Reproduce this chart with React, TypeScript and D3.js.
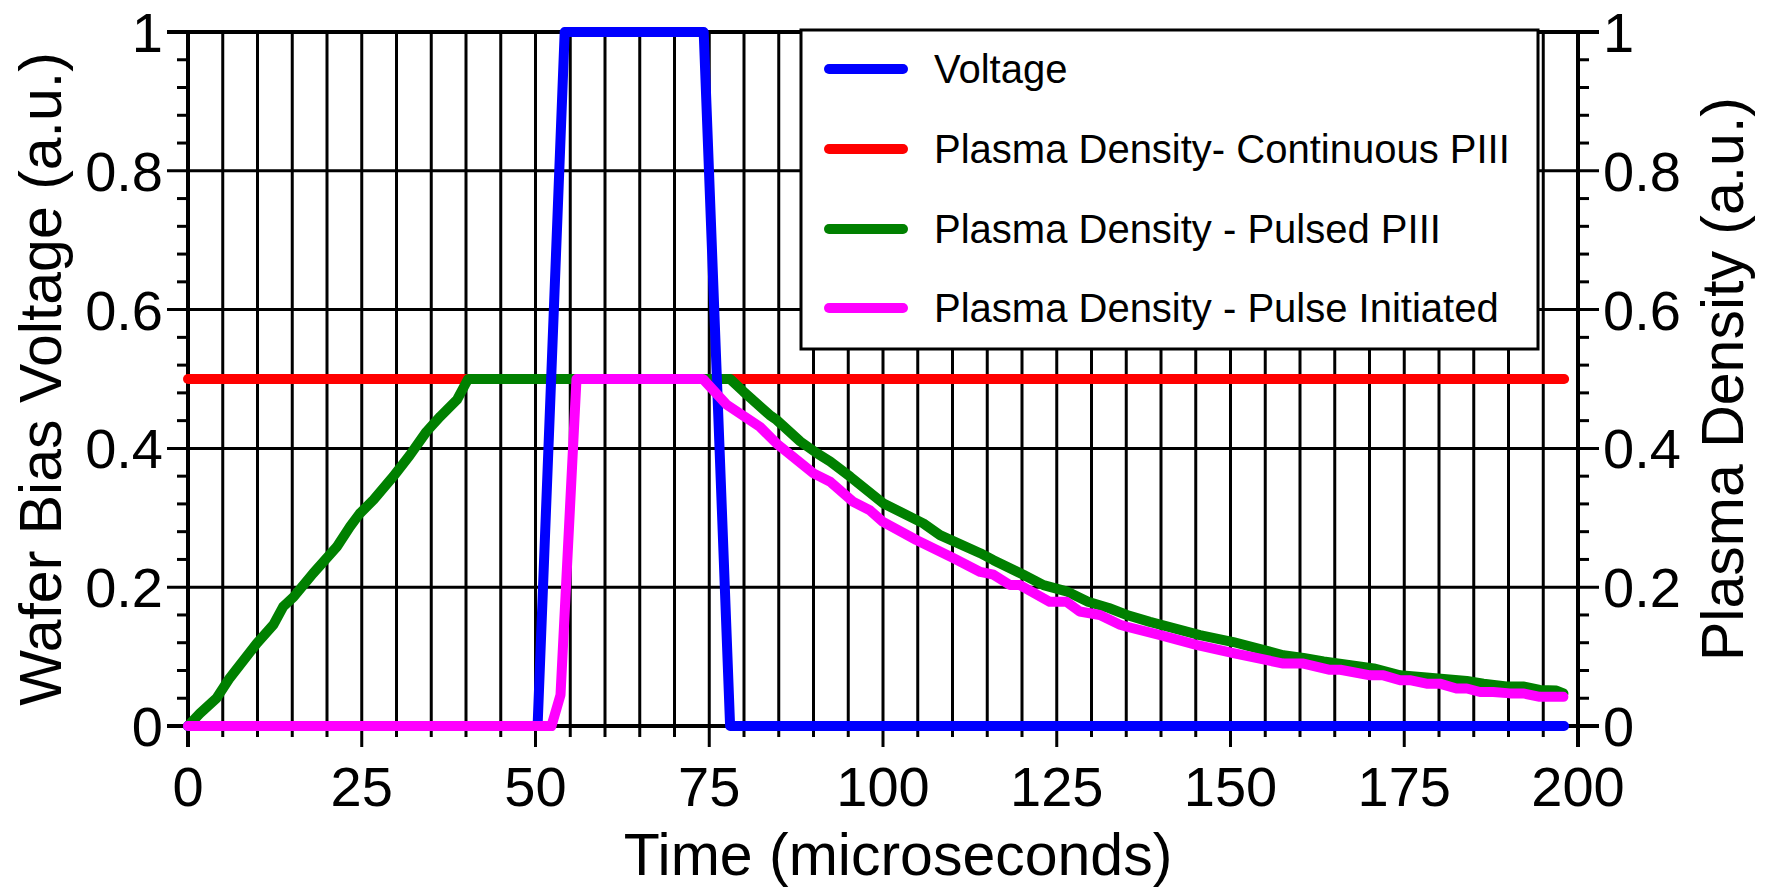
import React from "react";
import * as d3 from "d3";

// ---- Data ----
const seriesNames = [
  "Voltage",
  "Plasma Density- Continuous PIII",
  "Plasma Density - Pulsed PIII",
  "Plasma Density - Pulse Initiated",
];
const seriesColors = ["#0000ff", "#ff0000", "#008000", "#ff00ff"];

const xTicks = [0, 25, 50, 75, 100, 125, 150, 175, 200];
const yTicks = [0, 0.2, 0.4, 0.6, 0.8, 1];
const yTickLabels = ["0", "0.2", "0.4", "0.6", "0.8", "1"];

const voltage: [number, number][] = [
  [0, 0], [50.3, 0], [54.2, 1], [74.2, 1], [78.0, 0], [198, 0],
];

const continuous: [number, number][] = [
  [0, 0.5], [198, 0.5],
];

const pulsed: [number, number][] = [
  [0, 0], [1.7, 0.018], [4.1, 0.04], [6, 0.069], [9.9, 0.119], [12.3, 0.146],
  [13.7, 0.172], [15.2, 0.186], [18, 0.22], [21.4, 0.258], [23.3, 0.287],
  [24.7, 0.306], [26.7, 0.326], [29.5, 0.359], [31.9, 0.39], [34.3, 0.424],
  [36.3, 0.446], [38.7, 0.47], [40.3, 0.5], [78, 0.5], [79.9, 0.482],
  [83.7, 0.448], [84.7, 0.441], [88.1, 0.41], [90.5, 0.393], [92.4, 0.381],
  [95.3, 0.359], [100, 0.321], [105.8, 0.292], [108.2, 0.275], [114, 0.249],
  [115.9, 0.239], [120.2, 0.218], [123.1, 0.203], [126.4, 0.194],
  [129.5, 0.179], [132.5, 0.17], [135.1, 0.16], [138.4, 0.15], [145.6, 0.131],
  [150.4, 0.121], [157.6, 0.102], [160.5, 0.098], [163.4, 0.093],
  [170.6, 0.083], [174.4, 0.073], [178.2, 0.07], [184, 0.065], [186.4, 0.061],
  [189.7, 0.057], [192.1, 0.057], [194.5, 0.052], [196.9, 0.051],
  [197.9, 0.047],
];

const pulseInitiated: [number, number][] = [
  [0, 0], [52.3, 0], [53.6, 0.045], [55.9, 0.5], [74.1, 0.5], [77.5, 0.463],
  [82.3, 0.431], [84.7, 0.407], [90, 0.364], [92.4, 0.352], [95.7, 0.323],
  [98.1, 0.311], [100, 0.294], [104.8, 0.268], [110.1, 0.242], [114, 0.222],
  [115.9, 0.218], [118.3, 0.203], [119.7, 0.203], [124, 0.179], [126.4, 0.179],
  [128.3, 0.165], [131.2, 0.16], [134.1, 0.146], [135.1, 0.143],
  [139.9, 0.131], [145.1, 0.117], [150.4, 0.105], [157.6, 0.09], [160.5, 0.09],
  [164.3, 0.081], [165.8, 0.081], [170.1, 0.073], [172, 0.073], [174.4, 0.066],
  [175.8, 0.066], [178.2, 0.061], [180.1, 0.061], [182.5, 0.054], [184, 0.054],
  [185.9, 0.049], [187.8, 0.049], [190.2, 0.047], [192.1, 0.047],
  [194.5, 0.042], [197.9, 0.042],
];

// ---- Layout ----
const W = 1770;
const H = 890;
const PL = 188;
const PR = 1578;
const PT = 32;
const PB = 726;
const FONT = "'Liberation Sans', Arial, Helvetica, sans-serif";

export default function App() {
  const x = d3.scaleLinear().domain([0, 200]).range([PL, PR]);
  const y = d3.scaleLinear().domain([0, 1]).range([PB, PT]);
  const line = d3
    .line<[number, number]>()
    .x((d) => x(d[0]))
    .y((d) => y(d[1]));

  const xMinor = d3.range(0, 201, 5);
  const yMinor = d3.range(0, 1.0001, 0.04).map((v) => Math.round(v * 100) / 100);

  const majorLen = 21;
  const minorLen = 11;
  const isMajorX = (v: number) => v % 25 === 0;
  const isMajorY = (v: number) => Math.abs(v * 5 - Math.round(v * 5)) < 1e-6;

  // Draw order: continuous, pulsed, voltage, pulse initiated
  const drawOrder: [[number, number][], number][] = [
    [continuous, 1],
    [pulsed, 2],
    [voltage, 0],
    [pulseInitiated, 3],
  ];

  const legend = { x0: 801, y0: 30, x1: 1538, y1: 349 };
  const legendRowsY = [69, 149, 229, 308];

  return (
    <svg
      width={W}
      height={H}
      style={{ position: "absolute", left: 0, top: 0, background: "#fff" }}
      fontFamily={FONT}
    >
      <rect x={0} y={0} width={W} height={H} fill="#fff" />
      {/* vertical grid + bottom ticks */}
      {xMinor.map((v) => (
        <line
          key={"vx" + v}
          x1={x(v)}
          x2={x(v)}
          y1={PT}
          y2={PB + (isMajorX(v) ? majorLen : minorLen)}
          stroke="#000"
          strokeWidth={v === 0 || v === 200 ? 4 : 3}
        />
      ))}
      {/* horizontal: major grid lines span with ticks both sides; minor ticks outside */}
      {yMinor.map((v) =>
        isMajorY(v) ? (
          <line
            key={"hy" + v}
            x1={PL - majorLen}
            x2={PR + majorLen}
            y1={y(v)}
            y2={y(v)}
            stroke="#000"
            strokeWidth={v === 0 || v === 1 ? 4 : 3}
          />
        ) : (
          <g key={"my" + v}>
            <line x1={PL - minorLen} x2={PL} y1={y(v)} y2={y(v)} stroke="#000" strokeWidth={3} />
            <line x1={PR} x2={PR + minorLen} y1={y(v)} y2={y(v)} stroke="#000" strokeWidth={3} />
          </g>
        )
      )}

      {/* data lines */}
      {drawOrder.map(([data, ci]) => (
        <path
          key={"s" + ci}
          d={line(data) || ""}
          fill="none"
          stroke={seriesColors[ci]}
          strokeWidth={10}
          strokeLinejoin="round"
          strokeLinecap="round"
        />
      ))}

      {/* legend */}
      <rect
        x={legend.x0}
        y={legend.y0}
        width={legend.x1 - legend.x0}
        height={legend.y1 - legend.y0}
        fill="#fff"
        stroke="#000"
        strokeWidth={3}
      />
      {seriesNames.map((name, i) => (
        <g key={"lg" + i}>
          <line
            x1={829}
            x2={903}
            y1={legendRowsY[i]}
            y2={legendRowsY[i]}
            stroke={seriesColors[i]}
            strokeWidth={10}
            strokeLinecap="round"
          />
          <text x={934} y={legendRowsY[i] + 14} fontSize={40} fill="#000">
            {name}
          </text>
        </g>
      ))}

      {/* tick labels */}
      {xTicks.map((v) => (
        <text key={"xl" + v} x={x(v)} y={806} fontSize={56} textAnchor="middle" fill="#000">
          {String(v)}
        </text>
      ))}
      {yTicks.map((v, i) => (
        <text
          key={"yl" + v}
          x={163}
          y={y(v) + 20}
          fontSize={56}
          textAnchor="end"
          fill="#000"
        >
          {yTickLabels[i]}
        </text>
      ))}
      {yTicks.map((v, i) => (
        <text key={"yr" + v} x={1603} y={y(v) + 20} fontSize={56} textAnchor="start" fill="#000">
          {yTickLabels[i]}
        </text>
      ))}

      {/* axis titles */}
      <text x={898} y={875} fontSize={59} textAnchor="middle" fill="#000">
        Time (microseconds)
      </text>
      <text
        transform={`translate(61, ${(PT + PB) / 2}) rotate(-90)`}
        fontSize={59}
        textAnchor="middle"
        fill="#000"
      >
        Wafer Bias Voltage (a.u.)
      </text>
      <text
        transform={`translate(1743, ${(PT + PB) / 2}) rotate(-90)`}
        fontSize={59}
        textAnchor="middle"
        fill="#000"
      >
        Plasma Density (a.u.)
      </text>
    </svg>
  );
}
